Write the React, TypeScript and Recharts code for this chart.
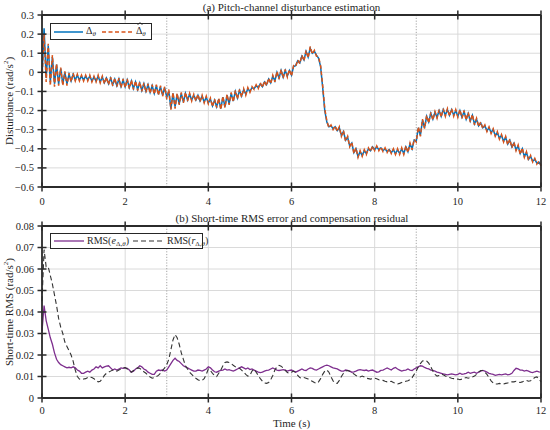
import React from "react";
import { LineChart, Line, XAxis, YAxis, CartesianGrid, ReferenceLine } from "recharts";

// Time grid: 0 to 12 s, 0.05 s step
const timeStep = 0.05;
const timeCount = 241;

// Panel (a): pitch-channel disturbance (rad/s^2)
const delta = [
  -0.03, 0.23, -0.03, 0.14, -0.05, 0.08, -0.06, 0.04, -0.06, 0.02,
  -0.06, 0.0, -0.06, -0.01, -0.045, -0.01, -0.04, -0.015, -0.04, -0.02,
  -0.04, -0.02, -0.04, -0.02, -0.045, -0.025, -0.045, -0.02, -0.05, -0.025,
  -0.055, -0.03, -0.06, -0.03, -0.065, -0.035, -0.07, -0.035, -0.075, -0.04,
  -0.075, -0.04, -0.08, -0.045, -0.085, -0.05, -0.09, -0.055, -0.095, -0.06,
  -0.1, -0.065, -0.105, -0.07, -0.11, -0.07, -0.115, -0.075, -0.12, -0.08,
  -0.13, -0.1, -0.19, -0.11, -0.18, -0.115, -0.165, -0.11, -0.155, -0.11,
  -0.145, -0.115, -0.145, -0.12, -0.145, -0.12, -0.15, -0.125, -0.155, -0.13,
  -0.16, -0.14, -0.175, -0.145, -0.18, -0.14, -0.19, -0.13, -0.18, -0.12,
  -0.165, -0.11, -0.15, -0.1, -0.135, -0.095, -0.125, -0.09, -0.115, -0.085,
  -0.1, -0.08, -0.085, -0.07, -0.08, -0.06, -0.075, -0.05, -0.065, -0.035,
  -0.055, -0.02, -0.045, 0.0, -0.03, 0.01, -0.025, 0.01, -0.02, 0.01,
  -0.015, 0.03, 0.035, 0.06, 0.05, 0.085, 0.065, 0.11, 0.08, 0.125,
  0.1, 0.11, 0.09, 0.075, 0.03, -0.08, -0.2, -0.26, -0.285, -0.28,
  -0.295, -0.285, -0.305, -0.29, -0.33, -0.31, -0.355, -0.34, -0.385, -0.37,
  -0.42, -0.4, -0.44, -0.415, -0.435, -0.41, -0.425, -0.4, -0.41, -0.39,
  -0.405, -0.39, -0.405, -0.395, -0.41, -0.4, -0.415, -0.405, -0.42, -0.405,
  -0.425, -0.405, -0.425, -0.4, -0.425, -0.39, -0.415, -0.375, -0.4, -0.355,
  -0.36, -0.29, -0.33, -0.25, -0.29, -0.23, -0.26, -0.215, -0.245, -0.21,
  -0.235, -0.2, -0.23, -0.195, -0.225, -0.195, -0.225, -0.195, -0.225, -0.2,
  -0.23, -0.2, -0.235, -0.205, -0.245, -0.215, -0.255, -0.225, -0.27, -0.245,
  -0.28, -0.265, -0.29, -0.28, -0.305, -0.29, -0.315, -0.3, -0.33, -0.315,
  -0.345, -0.33, -0.36, -0.34, -0.375, -0.355, -0.39, -0.37, -0.405, -0.385,
  -0.425, -0.4, -0.44, -0.42, -0.455, -0.44, -0.465, -0.455, -0.475, -0.47,
  -0.485,
];

const deltaHat = [
  -0.04, 0.2, -0.05, 0.15, -0.07, 0.09, -0.075, 0.045, -0.07, 0.025,
  -0.07, 0.005, -0.07, -0.005, -0.05, -0.005, -0.045, -0.01, -0.045, -0.015,
  -0.045, -0.015, -0.045, -0.015, -0.05, -0.02, -0.05, -0.015, -0.055, -0.02,
  -0.06, -0.025, -0.065, -0.025, -0.07, -0.03, -0.075, -0.03, -0.08, -0.035,
  -0.08, -0.035, -0.085, -0.04, -0.09, -0.045, -0.095, -0.05, -0.1, -0.055,
  -0.105, -0.06, -0.11, -0.065, -0.115, -0.065, -0.12, -0.07, -0.125, -0.075,
  -0.14, -0.09, -0.195, -0.105, -0.19, -0.11, -0.17, -0.105, -0.16, -0.105,
  -0.15, -0.11, -0.15, -0.115, -0.15, -0.115, -0.155, -0.12, -0.16, -0.125,
  -0.165, -0.135, -0.18, -0.14, -0.185, -0.135, -0.195, -0.125, -0.185, -0.115,
  -0.17, -0.105, -0.155, -0.095, -0.14, -0.09, -0.13, -0.085, -0.12, -0.08,
  -0.105, -0.075, -0.09, -0.065, -0.085, -0.055, -0.08, -0.045, -0.07, -0.03,
  -0.06, -0.015, -0.05, 0.005, -0.035, 0.015, -0.03, 0.015, -0.025, 0.015,
  -0.02, 0.035, 0.03, 0.065, 0.045, 0.09, 0.06, 0.115, 0.075, 0.135,
  0.095, 0.115, 0.085, 0.08, 0.035, -0.07, -0.19, -0.255, -0.29, -0.275,
  -0.3, -0.28, -0.31, -0.285, -0.335, -0.305, -0.36, -0.335, -0.39, -0.365,
  -0.425, -0.395, -0.445, -0.41, -0.44, -0.405, -0.43, -0.395, -0.415, -0.385,
  -0.41, -0.385, -0.41, -0.39, -0.415, -0.395, -0.42, -0.4, -0.425, -0.4,
  -0.43, -0.4, -0.43, -0.395, -0.43, -0.385, -0.42, -0.37, -0.405, -0.35,
  -0.365, -0.285, -0.335, -0.245, -0.295, -0.225, -0.265, -0.21, -0.25, -0.205,
  -0.24, -0.195, -0.235, -0.19, -0.23, -0.19, -0.23, -0.19, -0.23, -0.195,
  -0.235, -0.195, -0.24, -0.2, -0.25, -0.21, -0.26, -0.22, -0.275, -0.24,
  -0.285, -0.26, -0.295, -0.275, -0.31, -0.285, -0.32, -0.295, -0.335, -0.31,
  -0.35, -0.325, -0.365, -0.335, -0.38, -0.35, -0.395, -0.365, -0.41, -0.38,
  -0.43, -0.395, -0.445, -0.415, -0.46, -0.435, -0.47, -0.45, -0.48, -0.465,
  -0.49,
];

// Panel (b): short-time RMS (rad/s^2)
const rmsError = [
  0.031, 0.043, 0.036, 0.032, 0.028, 0.025, 0.021, 0.018, 0.0165, 0.0155,
  0.015, 0.0145, 0.014, 0.0143, 0.014, 0.0145, 0.014, 0.013, 0.0125, 0.0115,
  0.0115, 0.012, 0.0125, 0.012, 0.013, 0.0135, 0.0145, 0.014, 0.015, 0.014,
  0.0145, 0.0148, 0.015, 0.014, 0.013, 0.0135, 0.013, 0.0135, 0.014, 0.0138,
  0.014, 0.0138, 0.013, 0.012, 0.0125, 0.0135, 0.014, 0.015, 0.0145, 0.0135,
  0.013, 0.012, 0.0115, 0.011, 0.011, 0.0125, 0.013, 0.0128, 0.013, 0.0125,
  0.013, 0.0145, 0.016, 0.0175, 0.0185, 0.0175, 0.017, 0.016, 0.015, 0.0145,
  0.014, 0.0135, 0.013, 0.0125, 0.0125, 0.013, 0.0128, 0.0125, 0.013, 0.0135,
  0.0145, 0.014, 0.013, 0.0122, 0.012, 0.0125, 0.0128, 0.013, 0.0135, 0.013,
  0.0132, 0.0128, 0.0125, 0.013, 0.0135, 0.014, 0.0145, 0.014, 0.0135, 0.014,
  0.0132, 0.0135, 0.013, 0.0125, 0.012, 0.0118, 0.012, 0.0125, 0.0128, 0.013,
  0.0135, 0.014, 0.0135, 0.013, 0.0128, 0.013, 0.0132, 0.013, 0.0125, 0.0128,
  0.013, 0.0125, 0.012, 0.0125, 0.013, 0.0135, 0.013, 0.0128, 0.0135, 0.014,
  0.0138, 0.0132, 0.013, 0.0135, 0.014, 0.0145, 0.015, 0.0153, 0.015, 0.0145,
  0.014, 0.0138, 0.0135, 0.013, 0.0125, 0.0125, 0.013, 0.0128, 0.0125, 0.012,
  0.0122, 0.0125, 0.013, 0.0132, 0.013, 0.0128, 0.013, 0.0125, 0.0128, 0.013,
  0.0125, 0.012, 0.0122, 0.0128, 0.013, 0.0135, 0.014, 0.0135, 0.013, 0.0138,
  0.0142, 0.0135, 0.013, 0.0125, 0.0128, 0.013, 0.0135, 0.013, 0.0128, 0.0135,
  0.014, 0.0145, 0.015, 0.0148, 0.0142, 0.0138, 0.0135, 0.013, 0.0128, 0.0125,
  0.012, 0.0118, 0.0115, 0.0112, 0.011, 0.0108, 0.011, 0.0112, 0.011, 0.0108,
  0.011, 0.0115, 0.011, 0.0112, 0.0115, 0.012, 0.0115, 0.0118, 0.012, 0.0115,
  0.012, 0.0125, 0.0128, 0.0125, 0.012, 0.0115, 0.0112, 0.011, 0.0105, 0.0108,
  0.011, 0.0108, 0.011, 0.0112, 0.0108, 0.011, 0.0115, 0.0128, 0.0138, 0.0135,
  0.013, 0.013, 0.0125, 0.0128, 0.0125, 0.012, 0.0118, 0.0122, 0.0125, 0.0122,
  0.012,
];

const rmsResidual = [
  0.045, 0.069, 0.061, 0.061, 0.057, 0.053, 0.048, 0.043, 0.037, 0.033,
  0.03, 0.026, 0.024, 0.022, 0.02, 0.017, 0.013, 0.01, 0.0088, 0.0085,
  0.0088, 0.009, 0.0095, 0.0098, 0.0095, 0.009, 0.0082, 0.0075, 0.0078, 0.009,
  0.0105, 0.0115, 0.012, 0.0125, 0.013, 0.0128, 0.0125, 0.013, 0.0135, 0.014,
  0.0142, 0.0135, 0.0125, 0.012, 0.0128, 0.0135, 0.014, 0.0138, 0.013, 0.0122,
  0.0115, 0.0105, 0.0098, 0.0092, 0.0095, 0.01, 0.0105, 0.0115, 0.0128, 0.014,
  0.0155, 0.018, 0.0225, 0.027, 0.0295, 0.028, 0.025, 0.021, 0.018, 0.015,
  0.0135, 0.012, 0.011, 0.01, 0.0092, 0.0085, 0.008, 0.0082, 0.009, 0.011,
  0.0135, 0.0128, 0.0115, 0.0105, 0.01, 0.0115, 0.013, 0.015, 0.0165, 0.0168,
  0.0165, 0.016, 0.0152, 0.0145, 0.014, 0.0138, 0.013, 0.012, 0.011, 0.0102,
  0.0105, 0.0125, 0.0135, 0.012, 0.0105, 0.009, 0.0078, 0.007, 0.0068, 0.0072,
  0.0085, 0.0105, 0.013, 0.0145, 0.0152, 0.0148, 0.014, 0.0128, 0.0118, 0.0115,
  0.012, 0.0125, 0.012, 0.0105, 0.0095, 0.0092, 0.0095, 0.0092, 0.0088, 0.0082,
  0.0078, 0.0072, 0.0068, 0.0075, 0.009, 0.011, 0.0125, 0.013, 0.012, 0.0098,
  0.008, 0.007, 0.0068, 0.0082, 0.01, 0.0115, 0.0125, 0.0128, 0.0125, 0.0118,
  0.0112, 0.0105, 0.01, 0.0098, 0.0102, 0.0098, 0.0092, 0.009, 0.0088, 0.009,
  0.0092, 0.009, 0.0085, 0.0082, 0.0082, 0.0078, 0.0075, 0.0075, 0.0078, 0.0072,
  0.0068, 0.0065, 0.0068, 0.0072, 0.0075, 0.0078, 0.008, 0.0085, 0.0095, 0.011,
  0.0125, 0.0145, 0.016, 0.0172, 0.0175, 0.0172, 0.0162, 0.0145, 0.0125, 0.011,
  0.0102, 0.0105, 0.011, 0.0108, 0.0102, 0.0098, 0.0095, 0.0092, 0.009, 0.0088,
  0.0088, 0.0085, 0.0088, 0.0092, 0.0095, 0.0092, 0.0095, 0.0098, 0.0102, 0.011,
  0.012, 0.0128, 0.0128, 0.012, 0.011, 0.0095, 0.008, 0.007, 0.0065, 0.0065,
  0.0068, 0.0065, 0.0065, 0.0068, 0.007, 0.0072, 0.0075, 0.0075, 0.0078, 0.0075,
  0.0072, 0.0075, 0.008, 0.0082, 0.0078, 0.008, 0.0088, 0.0095, 0.0098, 0.009,
  0.0075,
];

const xTicks = [0, 2, 4, 6, 8, 10, 12];
const yTicksTop = [-0.6, -0.5, -0.4, -0.3, -0.2, -0.1, 0, 0.1, 0.2, 0.3];
const yTicksBottom = [0, 0.01, 0.02, 0.03, 0.04, 0.05, 0.06, 0.07, 0.08];
const markerTimes = [3, 9];

const times = Array.from({ length: timeCount }, (_, i) => Math.round(i * timeStep * 100) / 100);
const topData = times.map((t, i) => ({ t, d: delta[i], dh: deltaHat[i] }));
const bottomData = times.map((t, i) => ({ t, e: rmsError[i], r: rmsResidual[i] }));

const FONT = "'Liberation Serif', 'DejaVu Serif', serif";
const INK = "#262626";
const AXIS = "#2b2b2b";
const GRID = "#d6d6d6";
const TICK_HALF = 4.5;
const TICK_W = 1.5;

const fmt = (digits: number) => (v: number) =>
  v === 0 ? "0" : (v < 0 ? "\u2212" : "") + Math.abs(v).toFixed(digits);

// Ticks crossing the axis line (both directions), with labels on bottom/left
const makeBottomTick = (labelGap: number) => (props: any) => {
  const { x, y, payload } = props;
  return (
    <g>
      <line x1={x} x2={x} y1={y - TICK_HALF} y2={y + TICK_HALF} stroke={AXIS} strokeWidth={TICK_W} />
      <text x={x} y={y + labelGap} textAnchor="middle" fontSize={10.5} fontFamily={FONT} fill={INK}>
        {String(payload.value)}
      </text>
    </g>
  );
};
const topTick = (props: any) => {
  const { x, y } = props;
  return <line x1={x} x2={x} y1={y - TICK_HALF} y2={y + TICK_HALF} stroke={AXIS} strokeWidth={TICK_W} />;
};
const makeLeftTick = (digits: number) => (props: any) => {
  const { x, y, payload } = props;
  return (
    <g>
      <line x1={x - TICK_HALF} x2={x + TICK_HALF} y1={y} y2={y} stroke={AXIS} strokeWidth={TICK_W} />
      <text x={x - 8} y={y + 3.6} textAnchor="end" fontSize={10.5} fontFamily={FONT} fill={INK}>
        {fmt(digits)(payload.value)}
      </text>
    </g>
  );
};
const rightTick = (props: any) => {
  const { x, y } = props;
  return <line x1={x - TICK_HALF} x2={x + TICK_HALF} y1={y} y2={y} stroke={AXIS} strokeWidth={TICK_W} />;
};

function Panel(props: {
  data: any[];
  top: number;
  marginTop: number;
  marginBottom: number;
  labelGap: number;
  yDomain: [number, number];
  yTicks: number[];
  digits: number;
  children: React.ReactNode;
}) {
  const axisLine = { stroke: AXIS, strokeWidth: 1.8 };
  return (
    <div style={{ position: "absolute", left: 0, top: props.top }}>
      <LineChart
        width={550}
        height={215}
        data={props.data}
        margin={{ top: props.marginTop - 1, right: 8, bottom: props.marginBottom, left: 2 }}
      >
        <CartesianGrid stroke={GRID} strokeWidth={0.9} />
        {markerTimes.map((m) => (
          <ReferenceLine key={m} x={m} stroke="#9a9a9a" strokeWidth={0.9} strokeDasharray="1.2 1.6" />
        ))}
        <XAxis
          dataKey="t"
          type="number"
          domain={[0, 12]}
          ticks={xTicks}
          height={20}
          tickSize={0}
          tickMargin={0}
          tickLine={false}
          tick={makeBottomTick(props.labelGap)}
          axisLine={axisLine}
          interval={0}
        />
        <XAxis
          xAxisId="top"
          orientation="top"
          dataKey="t"
          type="number"
          domain={[0, 12]}
          ticks={xTicks}
          height={1}
          tickSize={0}
          tickMargin={0}
          tickLine={false}
          tick={topTick}
          axisLine={axisLine}
          interval={0}
        />
        <YAxis
          type="number"
          domain={props.yDomain}
          ticks={props.yTicks}
          width={40}
          tickSize={0}
          tickMargin={0}
          tickLine={false}
          tick={makeLeftTick(props.digits)}
          axisLine={axisLine}
          interval={0}
          allowDataOverflow
        />
        <YAxis
          yAxisId="right"
          orientation="right"
          type="number"
          domain={props.yDomain}
          ticks={props.yTicks}
          width={1}
          tickSize={0}
          tickMargin={0}
          tickLine={false}
          tick={rightTick}
          axisLine={axisLine}
          interval={0}
        />
        {props.children}
      </LineChart>
    </div>
  );
}

const legendBox: React.CSSProperties = {
  position: "absolute",
  background: "#fff",
  border: `1px solid ${INK}`,
  display: "flex",
  alignItems: "center",
  fontFamily: FONT,
  fontSize: 10,
  color: INK,
  boxSizing: "border-box",
  whiteSpace: "nowrap",
};

function Sample(props: { color: string; dash?: string; width: number; sw: number }) {
  return (
    <svg width={props.width} height={8} style={{ display: "block" }}>
      <line x1={0} y1={4} x2={props.width} y2={4} stroke={props.color} strokeWidth={props.sw} strokeDasharray={props.dash} />
    </svg>
  );
}

// Δ with a drawn hat accent (the estimate symbol)
const DeltaHat = () => (
  <span style={{ position: "relative", display: "inline-block" }}>
    {"\u0394"}
    <svg width={6} height={3} style={{ position: "absolute", left: 1, top: -3, overflow: "visible" }}>
      <polyline points="0.5,3 3,0.5 5.5,3" fill="none" stroke={INK} strokeWidth={0.8} />
    </svg>
  </span>
);

const subStyle: React.CSSProperties = { fontSize: 7, verticalAlign: "-2px" };

const labelStyle: React.CSSProperties = {
  position: "absolute",
  fontSize: 11,
  color: INK,
  whiteSpace: "nowrap",
  lineHeight: "1",
};

export default function App() {
  return (
    <div style={{ position: "absolute", left: 0, top: 0, width: 550, height: 430, background: "#fff", fontFamily: FONT }}>
      <Panel data={topData} top={0} marginTop={15} marginBottom={8} labelGap={18} yDomain={[-0.6, 0.3]} yTicks={yTicksTop} digits={1}>
        <Line dataKey="d" stroke="#0072BD" strokeWidth={1.5} dot={false} isAnimationActive={false} />
        <Line dataKey="dh" stroke="#D95319" strokeWidth={1.5} strokeDasharray="4 2.5" dot={false} isAnimationActive={false} />
      </Panel>
      <Panel data={bottomData} top={215} marginTop={11} marginBottom={12} labelGap={16} yDomain={[0, 0.08]} yTicks={yTicksBottom} digits={2}>
        <Line dataKey="e" stroke="#7E2F8E" strokeWidth={1.3} dot={false} isAnimationActive={false} />
        <Line dataKey="r" stroke="#333333" strokeWidth={1.1} strokeDasharray="5 3" dot={false} isAnimationActive={false} />
      </Panel>

      {/* titles and axis labels */}
      <div style={{ ...labelStyle, left: 291.5, top: 7, transform: "translate(-50%, -50%)" }}>
        (a) Pitch-channel disturbance estimation
      </div>
      <div style={{ ...labelStyle, left: 292, top: 218, transform: "translate(-50%, -50%)" }}>
        (b) Short-time RMS error and compensation residual
      </div>
      <div style={{ ...labelStyle, left: 291.5, top: 423, transform: "translate(-50%, -50%)" }}>
        Time (s)
      </div>
      <div style={{ ...labelStyle, left: 9, top: 101, transform: "translate(-50%, -50%) rotate(-90deg)" }}>
        Disturbance (rad/s<sup style={{ fontSize: 7 }}>2</sup>)
      </div>
      <div style={{ ...labelStyle, left: 9, top: 312, transform: "translate(-50%, -50%) rotate(-90deg)" }}>
        Short-time RMS (rad/s<sup style={{ fontSize: 7 }}>2</sup>)
      </div>

      {/* legends */}
      <div style={{ ...legendBox, left: 50, top: 23, width: 102, height: 17 }}>
        <div style={{ marginLeft: 3 }}><Sample color="#0072BD" width={29} sw={1.5} /></div>
        <span style={{ marginLeft: 3 }}>{"\u0394"}<i style={subStyle}>θ</i></span>
        <div style={{ marginLeft: 6 }}><Sample color="#D95319" width={31} sw={1.5} dash="4 2.5" /></div>
        <span style={{ marginLeft: 3 }}><DeltaHat /><i style={subStyle}>θ</i></span>
      </div>
      <div style={{ ...legendBox, left: 50, top: 233, width: 153, height: 16 }}>
        <div style={{ marginLeft: 3 }}><Sample color="#7E2F8E" width={30} sw={1.3} /></div>
        <span style={{ marginLeft: 3 }}>RMS(<i>e</i><span style={subStyle}>{"\u0394"},<i>θ</i></span>)</span>
        <div style={{ marginLeft: 4 }}><Sample color="#333333" width={32} sw={1.1} dash="5 3" /></div>
        <span style={{ marginLeft: 2 }}>RMS(<i>r</i><span style={subStyle}>{"\u0394"},<i>θ</i></span>)</span>
      </div>
    </div>
  );
}
